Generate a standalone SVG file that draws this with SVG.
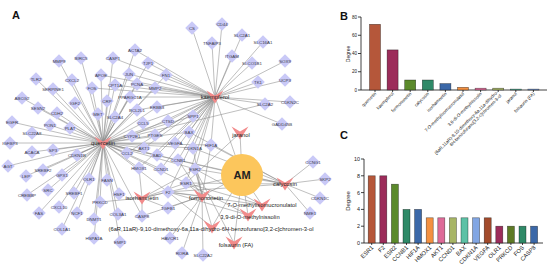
<svg xmlns="http://www.w3.org/2000/svg" xmlns:xlink="http://www.w3.org/1999/xlink" width="550" height="277" viewBox="0 0 550 277">
<defs>
<path id="d" d="M0-6.8L6.8 0L0 6.8L-6.8 0Z"/>
<path id="v" d="M-8.5-6.5L0-1.5L8.5-6.5L0 6.5Z"/>
<style>
text{font-family:"Liberation Sans",Arial,Helvetica,sans-serif}
.e{fill:none;stroke:#8a8a8a;stroke-width:.55}
.dn use{fill:#c9c9f7}
.dn text{font-size:4.4px;fill:#3a3a48;text-anchor:middle}
.cp use{fill:#f28b8b}
.cp text{font-size:5.8px;fill:#222;text-anchor:middle}
.ax{fill:none;stroke:#111;stroke-width:.8}
.yl{font-size:4.6px;fill:#222;text-anchor:end}
.xl{font-size:4.5px;fill:#222;text-anchor:end}
.xc{font-size:5.8px;fill:#222;text-anchor:end}
.yc{font-size:5.4px;fill:#222;text-anchor:end}
.bar{stroke:#000;stroke-opacity:.55;stroke-width:.6}
.lt{font-size:11px;font-weight:bold;fill:#111}
</style>
</defs>
<rect width="550" height="277" fill="#fff"/>
<text class="lt" x="12" y="19">A</text>
<text class="lt" x="340" y="20">B</text>
<text class="lt" x="340" y="139">C</text>

<g id="connectors" class="e">
<path d="M103 143L59 61M103 143L81 58M103 143L113 58M103 143L135 50M103 143L148 63M103 143L166 75M103 143L36 79M103 143L72 80M103 143L101 75M103 143L129 74M103 143L53 89M103 143L92 88M103 143L115 85M103 143L137 84M103 143L155 88M103 143L22 98M103 143L130 97M103 143L75 103M103 143L107 101M103 143L38 108M103 143L137 110M103 143L157 107M103 143L57 113M103 143L98 114M103 143L115 117M103 143L12 122M103 143L50 125M103 143L70 128M103 143L143 123M103 143L168 121M103 143L193 116M103 143L32 133M103 143L132 136M103 143L155 135M103 143L189 132M103 143L10 143M103 143L175 143M103 143L211 145M103 143L193 148M103 143L144 148M103 143L32 152M103 143L53 150M103 143L77 155M103 143L127 153M103 143L157 155M103 143L178 160M103 143L8 166M103 143L139 168M103 143L161 169M103 143L195 169M103 143L43 170M103 143L26 176M103 143L62 175M103 143L89 179M103 143L107 180M103 143L186 183M103 143L48 190M103 143L27 195M103 143L74 193M103 143L119 194M103 143L168 192M103 143L100 202M103 143L59 207M103 143L39 213M103 143L77 213M103 143L118 214M103 143L142 216M103 143L94 219M103 143L62 229M103 143L94 238M103 143L120 242M103 143L265 104"/>
<path d="M215 97L192 28M215 97L222 24M215 97L212 43M215 97L242 35M215 97L263 42M215 97L232 56M215 97L252 63M215 97L285 61M215 97L258 82M215 97L285 80M215 97L265 104M215 97L290 102M215 97L282 124M215 97L135 50M215 97L148 63M215 97L166 75M215 97L155 88M215 97L137 84M215 97L129 74M215 97L113 58M215 97L101 75M215 97L115 85M215 97L130 97M215 97L137 110M215 97L157 107M215 97L193 116M215 97L168 121M215 97L143 123M215 97L189 132M215 97L155 135M215 97L132 136M215 97L144 148M215 97L175 143M215 97L211 145M215 97L193 148M215 97L178 160M215 97L195 169M215 97L186 183M215 97L139 168M215 97L161 169M215 97L157 155M215 97L127 153M215 97L168 192M215 97L92 88"/>
<path d="M202 196L186 183M202 196L195 169M202 196L168 192M202 196L170 238M202 196L182 253M202 196L203 255M202 196L168 208M202 196L178 160M202 196L211 145M202 196L193 148M202 196L142 216"/>
<path d="M285 184L313 162M285 184L325 179M285 184L320 198M285 184L310 213M285 184L186 183M285 184L195 169M285 184L168 192M285 184L211 145M285 184L178 160M285 184L189 132M285 184L193 148"/>
<path d="M142 198L186 183M142 198L168 192M142 198L195 169M142 198L142 216M142 198L168 208M142 198L100 202M142 198L139 168"/>
<path d="M262 205L186 183M262 205L168 192M262 205L195 169M248 215L186 183M248 215L168 192M212 227L168 192M212 227L195 169M240 133L186 183M234 243L195 169"/>
<path d="M242 175L103 143M242 175L215 97M242 175L240 133M242 175L285 184M242 175L142 198M242 175L202 196M242 175L262 205M242 175L248 215M242 175L212 227M242 175L234 243"/>
</g>

<g id="targets">
<g id="n-MMP9" class="dn"><use xlink:href="#d" x="59" y="61"/><text x="59" y="62.6">MMP9</text></g>
<g id="n-BIRC5" class="dn"><use xlink:href="#d" x="81" y="58"/><text x="81" y="59.6">BIRC5</text></g>
<g id="n-CASP1" class="dn"><use xlink:href="#d" x="113" y="58"/><text x="113" y="59.6">CASP1</text></g>
<g id="n-ACTA2" class="dn"><use xlink:href="#d" x="135" y="50"/><text x="135" y="51.6">ACTA2</text></g>
<g id="n-TJP1" class="dn"><use xlink:href="#d" x="148" y="63"/><text x="148" y="64.6">TJP1</text></g>
<g id="n-FN1" class="dn"><use xlink:href="#d" x="166" y="75"/><text x="166" y="76.6">FN1</text></g>
<g id="n-TLR2" class="dn"><use xlink:href="#d" x="36" y="79"/><text x="36" y="80.6">TLR2</text></g>
<g id="n-CXCL2" class="dn"><use xlink:href="#d" x="72" y="80"/><text x="72" y="81.6">CXCL2</text></g>
<g id="n-APOE" class="dn"><use xlink:href="#d" x="101" y="75"/><text x="101" y="76.6">APOE</text></g>
<g id="n-JUN" class="dn"><use xlink:href="#d" x="129" y="74"/><text x="129" y="75.6">JUN</text></g>
<g id="n-SERPINE1" class="dn"><use xlink:href="#d" x="53" y="89"/><text x="53" y="90.6">SERPINE1</text></g>
<g id="n-FOS" class="dn"><use xlink:href="#d" x="92" y="88"/><text x="92" y="89.6">FOS</text></g>
<g id="n-CPT1A" class="dn"><use xlink:href="#d" x="115" y="85"/><text x="115" y="86.6">CPT1A</text></g>
<g id="n-PCNA" class="dn"><use xlink:href="#d" x="137" y="84"/><text x="137" y="85.6">PCNA</text></g>
<g id="n-MMP2" class="dn"><use xlink:href="#d" x="155" y="88"/><text x="155" y="89.6">MMP2</text></g>
<g id="n-ABCG2" class="dn"><use xlink:href="#d" x="22" y="98"/><text x="22" y="99.6">ABCG2</text></g>
<g id="n-PPARGC1A" class="dn"><use xlink:href="#d" x="130" y="97"/><text x="130" y="98.6">PPARGC1A</text></g>
<g id="n-IGF2" class="dn"><use xlink:href="#d" x="75" y="103"/><text x="75" y="104.6">IGF2</text></g>
<g id="n-CRP" class="dn"><use xlink:href="#d" x="107" y="101"/><text x="107" y="102.6">CRP</text></g>
<g id="n-SESN2" class="dn"><use xlink:href="#d" x="38" y="108"/><text x="38" y="109.6">SESN2</text></g>
<g id="n-BCL2L1" class="dn"><use xlink:href="#d" x="137" y="110"/><text x="137" y="111.6">BCL2L1</text></g>
<g id="n-ERBB3" class="dn"><use xlink:href="#d" x="157" y="107"/><text x="157" y="108.6">ERBB3</text></g>
<g id="n-CDH2" class="dn"><use xlink:href="#d" x="57" y="113"/><text x="57" y="114.6">CDH2</text></g>
<g id="n-MET" class="dn"><use xlink:href="#d" x="98" y="114"/><text x="98" y="115.6">MET</text></g>
<g id="n-SLC2A4" class="dn"><use xlink:href="#d" x="115" y="117"/><text x="115" y="118.6">SLC2A4</text></g>
<g id="n-EGFR" class="dn"><use xlink:href="#d" x="12" y="122"/><text x="12" y="123.6">EGFR</text></g>
<g id="n-PON1" class="dn"><use xlink:href="#d" x="50" y="125"/><text x="50" y="126.6">PON1</text></g>
<g id="n-PLAT" class="dn"><use xlink:href="#d" x="70" y="128"/><text x="70" y="129.6">PLAT</text></g>
<g id="n-CCL5" class="dn"><use xlink:href="#d" x="143" y="123"/><text x="143" y="124.6">CCL5</text></g>
<g id="n-CTSD" class="dn"><use xlink:href="#d" x="168" y="121"/><text x="168" y="122.6">CTSD</text></g>
<g id="n-SPP1" class="dn"><use xlink:href="#d" x="193" y="116"/><text x="193" y="117.6">SPP1</text></g>
<g id="n-SLC22A8" class="dn"><use xlink:href="#d" x="32" y="133"/><text x="32" y="134.6">SLC22A8</text></g>
<g id="n-CYP2E1" class="dn"><use xlink:href="#d" x="132" y="136"/><text x="132" y="137.6">CYP2E1</text></g>
<g id="n-PTGES" class="dn"><use xlink:href="#d" x="155" y="135"/><text x="155" y="136.6">PTGES</text></g>
<g id="n-BAX" class="dn"><use xlink:href="#d" x="189" y="132"/><text x="189" y="133.6">BAX</text></g>
<g id="n-IGFBP3" class="dn"><use xlink:href="#d" x="10" y="143"/><text x="10" y="144.6">IGFBP3</text></g>
<g id="n-VEGFA" class="dn"><use xlink:href="#d" x="175" y="143"/><text x="175" y="144.6">VEGFA</text></g>
<g id="n-HIF1A" class="dn"><use xlink:href="#d" x="211" y="145"/><text x="211" y="146.6">HIF1A</text></g>
<g id="n-CDKN1A" class="dn"><use xlink:href="#d" x="193" y="148"/><text x="193" y="149.6">CDKN1A</text></g>
<g id="n-AKT1" class="dn"><use xlink:href="#d" x="144" y="148"/><text x="144" y="149.6">AKT1</text></g>
<g id="n-ACACA" class="dn"><use xlink:href="#d" x="32" y="152"/><text x="32" y="153.6">ACACA</text></g>
<g id="n-SP3" class="dn"><use xlink:href="#d" x="53" y="150"/><text x="53" y="151.6">SP3</text></g>
<g id="n-CDKN1B" class="dn"><use xlink:href="#d" x="77" y="155"/><text x="77" y="156.6">CDKN1B</text></g>
<g id="n-CCL2" class="dn"><use xlink:href="#d" x="127" y="153"/><text x="127" y="154.6">CCL2</text></g>
<g id="n-BAD" class="dn"><use xlink:href="#d" x="157" y="155"/><text x="157" y="156.6">BAD</text></g>
<g id="n-CCNB1" class="dn"><use xlink:href="#d" x="178" y="160"/><text x="178" y="161.6">CCNB1</text></g>
<g id="n-AGT" class="dn"><use xlink:href="#d" x="8" y="166"/><text x="8" y="167.6">AGT</text></g>
<g id="n-HMOX1" class="dn"><use xlink:href="#d" x="139" y="168"/><text x="139" y="169.6">HMOX1</text></g>
<g id="n-CCND1" class="dn"><use xlink:href="#d" x="161" y="169"/><text x="161" y="170.6">CCND1</text></g>
<g id="n-ESR2" class="dn"><use xlink:href="#d" x="195" y="169"/><text x="195" y="170.6">ESR2</text></g>
<g id="n-SREBF2" class="dn"><use xlink:href="#d" x="43" y="170"/><text x="43" y="171.6">SREBF2</text></g>
<g id="n-LEP" class="dn"><use xlink:href="#d" x="26" y="176"/><text x="26" y="177.6">LEP</text></g>
<g id="n-GPX1" class="dn"><use xlink:href="#d" x="62" y="175"/><text x="62" y="176.6">GPX1</text></g>
<g id="n-OLR1" class="dn"><use xlink:href="#d" x="89" y="179"/><text x="89" y="180.6">OLR1</text></g>
<g id="n-FASN" class="dn"><use xlink:href="#d" x="107" y="180"/><text x="107" y="181.6">FASN</text></g>
<g id="n-ESR1" class="dn"><use xlink:href="#d" x="186" y="183"/><text x="186" y="184.6">ESR1</text></g>
<g id="n-SRC" class="dn"><use xlink:href="#d" x="48" y="190"/><text x="48" y="191.6">SRC</text></g>
<g id="n-CREBBP" class="dn"><use xlink:href="#d" x="27" y="195"/><text x="27" y="196.6">CREBBP</text></g>
<g id="n-SREBF1" class="dn"><use xlink:href="#d" x="74" y="193"/><text x="74" y="194.6">SREBF1</text></g>
<g id="n-HSF1" class="dn"><use xlink:href="#d" x="119" y="194"/><text x="119" y="195.6">HSF1</text></g>
<g id="n-F2" class="dn"><use xlink:href="#d" x="168" y="192"/><text x="168" y="193.6">F2</text></g>
<g id="n-PRKCD" class="dn"><use xlink:href="#d" x="100" y="202"/><text x="100" y="203.6">PRKCD</text></g>
<g id="n-CXCL10" class="dn"><use xlink:href="#d" x="59" y="207"/><text x="59" y="208.6">CXCL10</text></g>
<g id="n-TGFB1" class="dn"><use xlink:href="#d" x="168" y="208"/><text x="168" y="209.6">TGFB1</text></g>
<g id="n-FAS" class="dn"><use xlink:href="#d" x="39" y="213"/><text x="39" y="214.6">FAS</text></g>
<g id="n-NCF1" class="dn"><use xlink:href="#d" x="77" y="213"/><text x="77" y="214.6">NCF1</text></g>
<g id="n-COL3A1" class="dn"><use xlink:href="#d" x="118" y="214"/><text x="118" y="215.6">COL3A1</text></g>
<g id="n-CASP8" class="dn"><use xlink:href="#d" x="142" y="216"/><text x="142" y="217.6">CASP8</text></g>
<g id="n-DNMT1" class="dn"><use xlink:href="#d" x="94" y="219"/><text x="94" y="220.6">DNMT1</text></g>
<g id="n-COL1A1" class="dn"><use xlink:href="#d" x="62" y="229"/><text x="62" y="230.6">COL1A1</text></g>
<g id="n-HSPA1A" class="dn"><use xlink:href="#d" x="94" y="238"/><text x="94" y="239.6">HSPA1A</text></g>
<g id="n-HAVCR1" class="dn"><use xlink:href="#d" x="170" y="238"/><text x="170" y="239.6">HAVCR1</text></g>
<g id="n-EMP1" class="dn"><use xlink:href="#d" x="120" y="242"/><text x="120" y="243.6">EMP1</text></g>
<g id="n-RORA" class="dn"><use xlink:href="#d" x="182" y="253"/><text x="182" y="254.6">RORA</text></g>
<g id="n-SLC22A2" class="dn"><use xlink:href="#d" x="203" y="255"/><text x="203" y="256.6">SLC22A2</text></g>
<g id="n-CS" class="dn"><use xlink:href="#d" x="192" y="28"/><text x="192" y="29.6">CS</text></g>
<g id="n-CD44" class="dn"><use xlink:href="#d" x="222" y="24"/><text x="222" y="25.6">CD44</text></g>
<g id="n-TNFAIP3" class="dn"><use xlink:href="#d" x="212" y="43"/><text x="212" y="44.6">TNFAIP3</text></g>
<g id="n-SLC2A1" class="dn"><use xlink:href="#d" x="242" y="35"/><text x="242" y="36.6">SLC2A1</text></g>
<g id="n-SLC16A1" class="dn"><use xlink:href="#d" x="263" y="42"/><text x="263" y="43.6">SLC16A1</text></g>
<g id="n-ITGAM" class="dn"><use xlink:href="#d" x="232" y="56"/><text x="232" y="57.6">ITGAM</text></g>
<g id="n-SLCO1B1" class="dn"><use xlink:href="#d" x="252" y="63"/><text x="252" y="64.6">SLCO1B1</text></g>
<g id="n-SOX9" class="dn"><use xlink:href="#d" x="285" y="61"/><text x="285" y="62.6">SOX9</text></g>
<g id="n-TK1" class="dn"><use xlink:href="#d" x="258" y="82"/><text x="258" y="83.6">TK1</text></g>
<g id="n-UCP3" class="dn"><use xlink:href="#d" x="285" y="80"/><text x="285" y="81.6">UCP3</text></g>
<g id="n-SLC2A2" class="dn"><use xlink:href="#d" x="265" y="104"/><text x="265" y="105.6">SLC2A2</text></g>
<g id="n-CDKN2C" class="dn"><use xlink:href="#d" x="290" y="102"/><text x="290" y="103.6">CDKN2C</text></g>
<g id="n-GADD45B" class="dn"><use xlink:href="#d" x="282" y="124"/><text x="282" y="125.6">GADD45B</text></g>
<g id="n-CCNG1" class="dn"><use xlink:href="#d" x="313" y="162"/><text x="313" y="163.6">CCNG1</text></g>
<g id="n-SKP2" class="dn"><use xlink:href="#d" x="325" y="179"/><text x="325" y="180.6">SKP2</text></g>
<g id="n-CDKN1C" class="dn"><use xlink:href="#d" x="320" y="198"/><text x="320" y="199.6">CDKN1C</text></g>
<g id="n-NME1" class="dn"><use xlink:href="#d" x="310" y="213"/><text x="310" y="214.6">NME1</text></g>
</g>

<g id="compounds">
<g id="c-quercetin" class="cp"><use xlink:href="#v" x="103" y="143"/><text x="103" y="145">quercetin</text></g>
<g id="c-kaempferol" class="cp"><use xlink:href="#v" x="215" y="97"/><text x="215" y="99">kaempferol</text></g>
<g id="c-jaranol" class="cp"><use xlink:href="#v" x="240" y="133"/><text x="241" y="137">jaranol</text></g>
<g id="c-calycosin" class="cp"><use xlink:href="#v" x="285" y="184"/><text x="285" y="186">calycosin</text></g>
<g id="c-isorhamnetin" class="cp"><use xlink:href="#v" x="142" y="198"/><text x="142" y="200">isorhamnetin</text></g>
<g id="c-formononetin" class="cp"><use xlink:href="#v" x="202" y="196"/><text x="206" y="200">formononetin</text></g>
<g id="c-7OM" class="cp"><use xlink:href="#v" x="262" y="205"/><text x="262" y="207">7-O-methylisomucronulatol</text></g>
<g id="c-39DM" class="cp"><use xlink:href="#v" x="248" y="215"/><text x="250" y="219">3,9-di-O-methylnissolin</text></g>
<g id="c-6aR" class="cp"><use xlink:href="#v" x="212" y="227"/><text x="211" y="231">(6aR,11aR)-9,10-dimethoxy-6a,11a-dihydro-6H-benzofurano[3,2-c]chromen-3-ol</text></g>
<g id="c-folsaurin" class="cp"><use xlink:href="#v" x="234" y="243"/><text x="236" y="247">folsaurin (FA)</text></g>
</g>

<g id="n-AM">
<circle cx="242" cy="175" r="21" fill="#fcc65c"/>
<text x="242" y="179" font-size="11" font-weight="bold" fill="#222" text-anchor="middle">AM</text>
</g>

<g id="chartB">
<text class="yl" x="0" y="0" transform="translate(350,54) rotate(-90)" text-anchor="middle" style="text-anchor:middle;font-size:5px">Degree</text>
<path class="ax" d="M361 17V90H547M358 90H361M358 71.75H361M358 53.5H361M358 35.25H361M358 17H361"/>
<text class="yl" x="357" y="91.6">0</text>
<text class="yl" x="357" y="73.3">20</text>
<text class="yl" x="357" y="55.1">40</text>
<text class="yl" x="357" y="36.8">60</text>
<text class="yl" x="357" y="18.6">80</text>
<rect class="bar" x="369.5" y="24.3" width="11" height="65.7" fill="#b5573a"/>
<rect class="bar" x="387.1" y="49.9" width="11" height="40.1" fill="#9c2c5a"/>
<rect class="bar" x="404.7" y="80" width="11" height="10" fill="#5b8a2b"/>
<rect class="bar" x="422.3" y="80" width="11" height="10" fill="#2f8a68"/>
<rect class="bar" x="439.9" y="83.6" width="11" height="6.4" fill="#3b68a8"/>
<rect class="bar" x="457.5" y="87.3" width="11" height="2.7" fill="#f39040"/>
<rect class="bar" x="475.1" y="88.2" width="11" height="1.8" fill="#de6a98"/>
<rect class="bar" x="492.7" y="88.2" width="11" height="1.8" fill="#a7b565"/>
<rect class="bar" x="510.3" y="89.1" width="11" height="0.9" fill="#5dc1a6"/>
<rect class="bar" x="527.9" y="89.1" width="11" height="0.9" fill="#82a6e3"/>
<path class="ax" d="M375 90v2M392.6 90v2M410.2 90v2M427.8 90v2M445.4 90v2M463 90v2M480.6 90v2M498.2 90v2M515.8 90v2M533.4 90v2"/>
<text class="xl" transform="translate(376.5,94) rotate(-45)">quercetin</text>
<text class="xl" transform="translate(394.1,94) rotate(-45)">kaempferol</text>
<text class="xl" transform="translate(411.7,94) rotate(-45)">formononetin</text>
<text class="xl" transform="translate(429.3,94) rotate(-45)">calycosin</text>
<text class="xl" transform="translate(446.9,94) rotate(-45)">isorhamnetin</text>
<text class="xl" transform="translate(464.5,94) rotate(-45)">7-O-methylisomucronulatol</text>
<text class="xl" transform="translate(482.1,94) rotate(-45)">3,9-di-O-methylnissolin</text>
<text class="xl" transform="translate(499.7,94) rotate(-45)"><tspan x="0" y="-2">(6aR,11aR)-9,10-dimethoxy-6a,11a-dihydro-</tspan><tspan x="0" y="3">6H-benzofurano[3,2-c]chromen-3-ol</tspan></text>
<text class="xl" transform="translate(517.3,94) rotate(-45)">jaranol</text>
<text class="xl" transform="translate(534.9,94) rotate(-45)">folsaurin (FA)</text>
</g>

<g id="chartC">
<text x="0" y="0" transform="translate(350,201) rotate(-90)" text-anchor="middle" font-size="6" fill="#222">Degree</text>
<path class="ax" d="M364 159V243H543M361 243H364M361 226.2H364M361 209.4H364M361 192.6H364M361 175.8H364M361 159H364"/>
<text class="yc" x="360" y="244.9">0</text>
<text class="yc" x="360" y="228.1">2</text>
<text class="yc" x="360" y="211.3">4</text>
<text class="yc" x="360" y="194.5">6</text>
<text class="yc" x="360" y="177.7">8</text>
<text class="yc" x="360" y="160.9">10</text>
<rect class="bar" x="368.2" y="175.8" width="7" height="67.2" fill="#b5573a"/>
<rect class="bar" x="379.8" y="175.8" width="7" height="67.2" fill="#9c2c5a"/>
<rect class="bar" x="391.4" y="184.2" width="7" height="58.8" fill="#5b8a2b"/>
<rect class="bar" x="403" y="209.4" width="7" height="33.6" fill="#2f8a68"/>
<rect class="bar" x="414.6" y="209.4" width="7" height="33.6" fill="#3b68a8"/>
<rect class="bar" x="426.2" y="217.8" width="7" height="25.2" fill="#f39040"/>
<rect class="bar" x="437.8" y="217.8" width="7" height="25.2" fill="#de6a98"/>
<rect class="bar" x="449.4" y="217.8" width="7" height="25.2" fill="#a7b565"/>
<rect class="bar" x="461" y="217.8" width="7" height="25.2" fill="#5dc1a6"/>
<rect class="bar" x="472.6" y="217.8" width="7" height="25.2" fill="#82a6e3"/>
<rect class="bar" x="484.2" y="217.8" width="7" height="25.2" fill="#a24b2c"/>
<rect class="bar" x="495.8" y="226.2" width="7" height="16.8" fill="#9c2c5a"/>
<rect class="bar" x="507.4" y="226.2" width="7" height="16.8" fill="#5e7a25"/>
<rect class="bar" x="519" y="226.2" width="7" height="16.8" fill="#2f8a68"/>
<rect class="bar" x="530.6" y="226.2" width="7" height="16.8" fill="#3b68a8"/>
<path class="ax" d="M371.7 243v2M383.3 243v2M394.9 243v2M406.5 243v2M418.1 243v2M429.7 243v2M441.3 243v2M452.9 243v2M464.5 243v2M476.1 243v2M487.7 243v2M499.3 243v2M510.9 243v2M522.5 243v2M534.1 243v2"/>
<text class="xc" transform="translate(373.7,248) rotate(-45)">ESR1</text>
<text class="xc" transform="translate(385.3,248) rotate(-45)">F2</text>
<text class="xc" transform="translate(396.9,248) rotate(-45)">ESR2</text>
<text class="xc" transform="translate(408.5,248) rotate(-45)">CCNB1</text>
<text class="xc" transform="translate(420.1,248) rotate(-45)">HIF1A</text>
<text class="xc" transform="translate(431.7,248) rotate(-45)">HMOX1</text>
<text class="xc" transform="translate(443.3,248) rotate(-45)">AKT1</text>
<text class="xc" transform="translate(454.9,248) rotate(-45)">CCND1</text>
<text class="xc" transform="translate(466.5,248) rotate(-45)">BAX</text>
<text class="xc" transform="translate(478.1,248) rotate(-45)">CDKN1A</text>
<text class="xc" transform="translate(489.7,248) rotate(-45)">VEGFA</text>
<text class="xc" transform="translate(501.3,248) rotate(-45)">OLR1</text>
<text class="xc" transform="translate(512.9,248) rotate(-45)">PRKCD</text>
<text class="xc" transform="translate(524.5,248) rotate(-45)">FOS</text>
<text class="xc" transform="translate(536.1,248) rotate(-45)">CASP8</text>
</g>
</svg>
